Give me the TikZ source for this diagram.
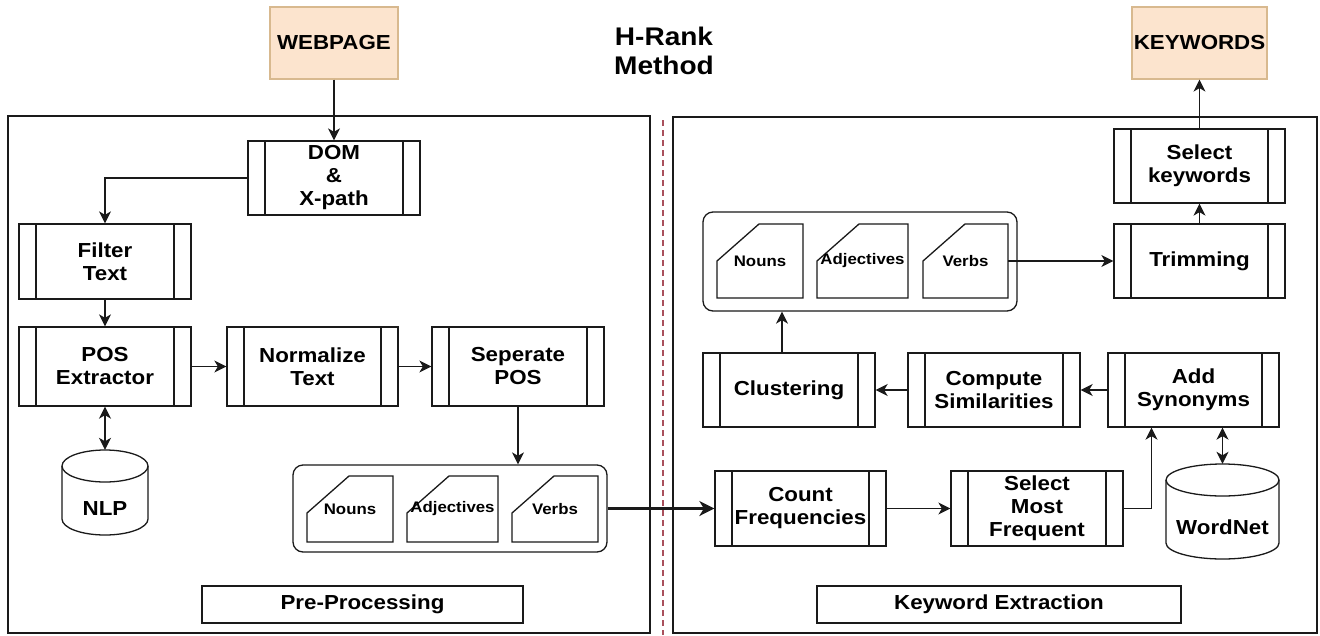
\documentclass[tikz,border=0pt]{standalone}
\usepackage{fontspec}
\setmainfont{Liberation Sans}[FakeStretch=1.1]
\usetikzlibrary{arrows.meta,calc}

\definecolor{peach}{HTML}{FCE4CE}
\definecolor{peachline}{HTML}{D8B98F}
\definecolor{divider}{HTML}{A9505C}
\definecolor{ink}{HTML}{1A1A1A}

\tikzset{
  boxfont/.style={font=\fontsize{20.3}{23}\selectfont\bfseries},
  smallfont/.style={font=\fontsize{15.3}{18}\selectfont\bfseries},
  proc/.style={draw=ink, line width=1.3pt, fill=white, inner sep=0pt,
    align=center, boxfont,
    path picture={
      \draw[ink, line width=1.3pt]
        ([xshift=17pt]path picture bounding box.north west) --
        ([xshift=17pt]path picture bounding box.south west)
        ([xshift=-17pt]path picture bounding box.north east) --
        ([xshift=-17pt]path picture bounding box.south east);}},
  iobox/.style={draw=peachline, line width=1.2pt, fill=peach, inner sep=0pt,
    boxfont},
  panel/.style={draw=ink, line width=2.6pt, inner sep=0pt},
  tagbox/.style={draw=ink, line width=1.3pt, inner sep=0pt, boxfont},
  grp/.style={draw=ink, line width=1.3pt, rounded corners=10pt, inner sep=0pt},
  cardline/.style={draw=ink, line width=1.3pt, fill=white},
  cardtext/.style={inner sep=0pt, smallfont},
  dbline/.style={draw=ink, line width=1.3pt, fill=white},
  link/.style={draw=ink, line width=1.3pt, -{Stealth[length=12pt,width=12pt,inset=3.5pt]}},
  dlink/.style={draw=ink, line width=1.3pt,
    {Stealth[length=12pt,width=12pt,inset=3.5pt]}-{Stealth[length=12pt,width=12pt,inset=3.5pt]}},
  biglink/.style={draw=ink, line width=2.4pt,
    -{Stealth[length=15pt,width=15pt,inset=4.5pt]}},
  divline/.style={draw=divider, line width=2.4pt, dash pattern=on 6pt off 4pt},
}

% process step with side bars: name, x1, y1, x2, y2, text
\newcommand\procbox[6]{%
  \node[proc, minimum width={#4-#2}, minimum height={#5-#3}]
    (#1) at ({(#2+#4)/2},{(#3+#5)/2}) {#6};}

% document card with cut top-left corner: name, x1, y1, x2, y2, text
\newcommand\cardshape[6]{%
  \draw[cardline] (#2,{#3+37}) -- ({#2+42},#3) -- (#4,#3) -- (#4,#5)
    -- (#2,#5) -- cycle;
  \node[cardtext, minimum width={#4-#2}, minimum height={#5-#3}]
    (#1) at ({(#2+#4)/2},{(#3+#5)/2}) {#6};}

% database drum: name, x1, y1, x2, y2, text
\newcommand\drumshape[6]{%
  \pgfmathsetmacro\drx{(#4-#2)/2}
  \draw[dbline] (#2,{#3+16}) -- (#2,{#5-16})
    arc[start angle=180, end angle=360, x radius=\drx pt, y radius=16pt]
    -- (#4,{#3+16})
    arc[start angle=0, end angle=180, x radius=\drx pt, y radius=16pt]
    -- cycle;
  \draw[ink, line width=1.3pt] (#2,{#3+16})
    arc[start angle=180, end angle=360, x radius=\drx pt, y radius=16pt];
  \node[inner sep=0pt, minimum width={#4-#2}, minimum height={#5-#3}]
    (#1) at ({(#2+#4)/2},{(#3+#5)/2}) {};
  \node[boxfont, inner sep=0pt] (#1-label) at ({(#2+#4)/2},{(#3+32+#5)/2}) {#6};}

\begin{document}
\begin{tikzpicture}[x=1pt, y=-1pt]
  \fill[white] (0,0) rectangle (1320,635);
  \useasboundingbox (0,0) rectangle (1320,635);

  % title
  \node[font=\fontsize{25.5}{29}\selectfont\bfseries, align=center, inner sep=0pt]
    (title) at (664,51) {H-Rank\\Method};

  % input and output
  \node[iobox, minimum width=128, minimum height=72] (web) at (334,43) {WEBPAGE};
  \node[iobox, minimum width=135, minimum height=72] (kw) at (1199.5,43) {KEYWORDS};

  % the two stages
  \node[panel, minimum width=642, minimum height=517] (prepanel) at (329,374.5) {};
  \node[panel, minimum width=644, minimum height=516] (kwpanel) at (995,375) {};
  \coordinate (dtop) at (663,120);
  \coordinate (dbot) at (663,635);
  \draw[divline] (dtop) -- (dbot);

  \node[tagbox, minimum width=321, minimum height=37] (pretag) at (362.5,604.5) {Pre-Processing};
  \node[tagbox, minimum width=364, minimum height=37] (kwtag) at (999,604.5) {Keyword Extraction};

  % pre-processing steps
  \procbox{dom}{248}{141}{420}{215}{DOM\\\&\\X-path}
  \procbox{filt}{19}{224}{191}{299}{Filter\\Text}
  \procbox{pos}{19}{327}{191}{406}{POS\\Extractor}
  \procbox{norm}{227}{327}{398}{406}{Normalize\\Text}
  \procbox{sep}{432}{327}{604}{406}{Seperate\\POS}
  \drumshape{nlp}{62}{450}{148}{535}{NLP}

  \node[grp, minimum width=314, minimum height=87] (lgrp) at (450,508.5) {};
  \cardshape{lnoun}{307}{476}{393}{542}{Nouns}
  \cardshape{ladj}{407}{476}{498}{542}{Adjectives}
  \cardshape{lverb}{512}{476}{598}{542}{Verbs}

  % keyword extraction steps
  \procbox{cnt}{715}{471}{886}{546}{Count\\Frequencies}
  \procbox{smf}{951}{471}{1123}{546}{Select\\Most\\Frequent}
  \procbox{syn}{1108}{353}{1279}{427}{Add\\Synonyms}
  \procbox{comp}{908}{353}{1080}{427}{Compute\\Similarities}
  \procbox{clus}{703}{353}{875}{427}{Clustering}
  \drumshape{wn}{1166}{464}{1279}{559}{WordNet}

  \node[grp, minimum width=314, minimum height=99] (rgrp) at (860,261.5) {};
  \cardshape{rnoun}{717}{224}{803}{298}{Nouns}
  \cardshape{radj}{817}{224}{908}{298}{Adjectives}
  \cardshape{rverb}{923}{224}{1008}{298}{Verbs}

  \procbox{trim}{1114}{224}{1285}{298}{Trimming}
  \procbox{selk}{1114}{129}{1285}{203}{Select\\keywords}

  % flow
  \draw[link] (web.south) -- (dom.north);
  \draw[link] (dom.west) -| (filt.north);
  \draw[link] (filt) -- (pos);
  \draw[dlink] (pos.south) -- (nlp.north);
  \draw[link] (pos) -- (norm);
  \draw[link] (norm) -- (sep);
  \draw[link] (sep.south) -- (sep.south |- lgrp.north);
  \draw[biglink] (lgrp.east) -- (lgrp.east -| cnt.west);
  \draw[link] (cnt) -- (smf);
  \draw[link] (smf.east) -| ([xshift=-42pt]syn.south);
  \draw[dlink] (wn.north) -- (wn.north |- syn.south);
  \draw[link] (syn) -- (comp);
  \draw[link] (comp) -- (clus);
  \draw[link] ([xshift=-7pt]clus.north) -- ([xshift=-7pt]clus.north |- rgrp.south);
  \draw[link] (rverb.east) -- (trim.west);
  \draw[link] (trim) -- (selk);
  \draw[link] (selk) -- (kw);
\end{tikzpicture}
\end{document}
